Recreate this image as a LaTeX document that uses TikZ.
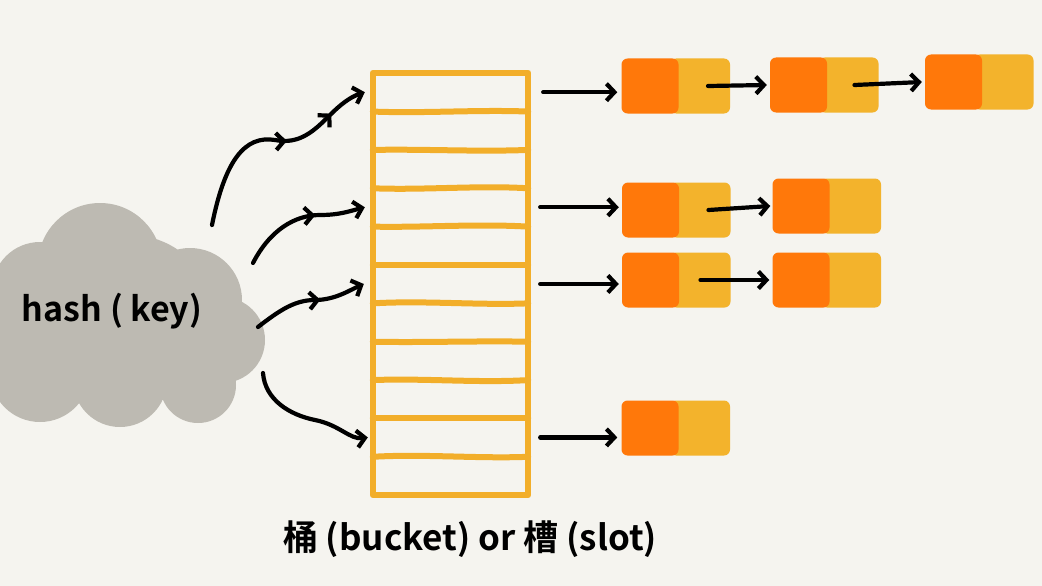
\documentclass[tikz,border=0pt]{standalone}
\usepackage{fontspec}
\newfontfamily\cjk{Noto Sans CJK SC}[BoldFont=* Bold]
\usetikzlibrary{arrows.meta,decorations.markings}
\definecolor{bg}{HTML}{F5F4EF}
\definecolor{cloudc}{HTML}{BDBAB2}
\definecolor{bucketc}{HTML}{F2AE2A}
\definecolor{keyc}{HTML}{FF780A}
\definecolor{valc}{HTML}{F3B32C}
\begin{document}
\begin{tikzpicture}[x=1pt,y=-1pt,
  slot/.style={minimum width=155pt, minimum height=38.36pt, inner sep=0pt},
  frame/.style={draw=bucketc, line width=6pt, line cap=round, line join=round},
  keybox/.style={fill=keyc, rounded corners=6pt, minimum width=57pt, minimum height=55pt, inner sep=0pt},
  valbox/.style={fill=valc, rounded corners=6pt, minimum width=60pt, minimum height=55pt, inner sep=0pt},
  arr/.style={line width=4.2pt, line cap=round, -{Straight Barb[length=8pt,width=17pt]}},
  tipmid/.style={postaction={decorate}, decoration={markings, mark=at position #1 with {\arrow{Straight Barb[length=8pt,width=17pt]}}}},
  tipmids/.style 2 args={postaction={decorate}, decoration={markings, mark=at position #1 with {\arrow{Straight Barb[length=8pt,width=17pt]}}, mark=at position #2 with {\arrow{Straight Barb[length=8pt,width=17pt]}}}},
  txt/.style={font=\cjk\bfseries, text=black, inner sep=0pt}
]
\fill[bg] (0,0) rectangle (1042,586);
\useasboundingbox (0,0) rectangle (1042,586);

% cloud
\begin{scope}
\clip (0,0) rectangle (1042,586);
\fill[cloudc] (100,265) circle (62) (40,290) circle (48) (190,300) circle (52)
  (222,340) circle (43) (198,385) circle (38) (120,380) circle (47)
  (40,372) circle (50) (130,320) circle (85) (10,330) circle (50);
\end{scope}
\node[txt] (hash) at (112,311) {\fontsize{34}{40}\selectfont hash ( key)};

% buckets
\foreach \i in {1,...,11} {
  \node[slot] (s\i) at (450.5,{73+38.36*(\i-0.5)}) {};
}
\draw[frame] (s1.north west) rectangle (s11.south east);
\foreach \i/\a/\b in {1/2/-2, 2/-1/2, 3/2/-3, 4/1/-3, 5/0/0, 6/-3/2, 7/1/-1, 8/-2/3, 9/0/0, 10/-3/2} {
  \draw[frame] (s\i.south west) .. controls ([shift={(50,\a)}]s\i.south west) and ([shift={(-50,\b)}]s\i.south east) .. (s\i.south east);
}
\node[txt] (label) at (470,539) {\fontsize{35}{42}\selectfont 桶 (bucket) or 槽 (slot)};

% list nodes
\node[valbox] (r1a-v) at (700,86) {};  \node[keybox] (r1a-k) at (650,86) {};
\node[valbox] (r1b-v) at (848.5,85) {}; \node[keybox] (r1b-k) at (798.5,85) {};
\node[valbox] (r1c-v) at (1003.5,82) {}; \node[keybox] (r1c-k) at (953.5,82) {};
\node[valbox] (r2a-v) at (700.5,210) {}; \node[keybox] (r2a-k) at (650.5,210) {};
\node[valbox] (r2b-v) at (851,206) {};  \node[keybox] (r2b-k) at (801,206) {};
\node[valbox] (r3a-v) at (700.5,280) {}; \node[keybox] (r3a-k) at (650.5,280) {};
\node[valbox] (r3b-v) at (851,280) {};  \node[keybox] (r3b-k) at (801,280) {};
\node[valbox] (r4a-v) at (700,428) {};  \node[keybox] (r4a-k) at (650,428) {};

% list arrows
\draw[arr] ([xshift=8pt]r1a-v.center) -- ([xshift=-3pt]r1b-k.west);
\draw[arr] ([xshift=6pt]r1b-v.center) -- ([xshift=-3pt]r1c-k.west);
\draw[arr] ([xshift=8pt]r2a-v.center) -- ([xshift=-2pt]r2b-k.west);
\draw[arr] ([xshift=0pt]r3a-v.center) -- ([xshift=-3pt]r3b-k.west);

% bucket to list arrows
\draw[arr] ([xshift=15pt]s1.east) -- ([xshift=-4pt]s1.east -| r1a-k.west);
\draw[arr] ([xshift=12pt]s4.east) -- ([xshift=-3pt]s4.east -| r2a-k.west);
\draw[arr] ([xshift=12pt]s6.east) -- ([xshift=-3pt]s6.east -| r3a-k.west);
\draw[arr] ([xshift=12pt]s10.east) -- ([xshift=-4pt]s10.east -| r4a-k.west);

% hash arrows
\coordinate (h1) at (212,225);
\coordinate (h2) at (253,263);
\coordinate (h3) at (258,327);
\coordinate (h4) at (263,373);
\draw[arr, tipmids={0.58}{0.82}] (h1) .. controls (225,160) and (245,135) .. (275,140)
   .. controls (300,145) and (315,130) .. (330,115)
   .. controls (340,105) and (350,97) .. ([xshift=-8pt]s1.west);
\draw[arr, tipmid=0.62] (h2) .. controls (270,230) and (295,215) .. (320,215)
   .. controls (340,215) and (350,211) .. ([xshift=-8pt]s4.west);
\draw[arr, tipmid=0.6] (h3) .. controls (280,310) and (295,300) .. (315,300)
   .. controls (335,300) and (350,290) .. ([xshift=-9pt]s6.west);
\draw[arr] (h4) .. controls (265,400) and (290,415) .. (315,420)
   .. controls (340,425) and (350,440) .. ([xshift=-5pt]s10.west);
\end{tikzpicture}
\end{document}
